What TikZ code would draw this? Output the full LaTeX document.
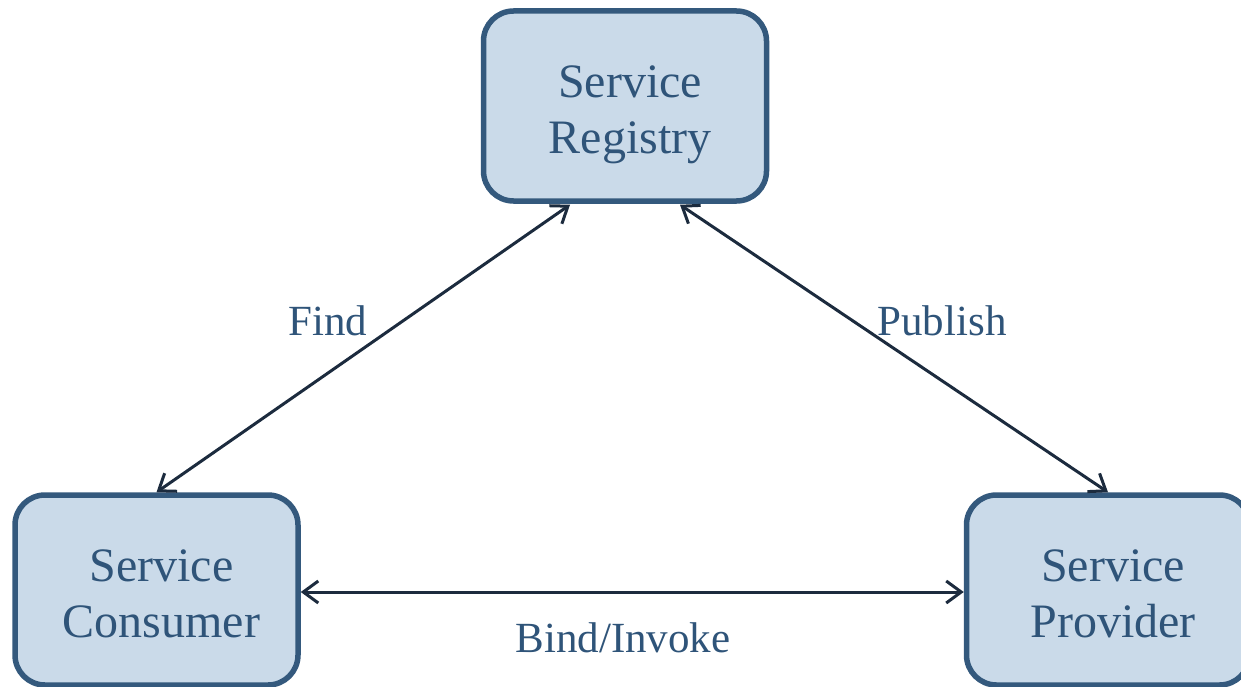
\documentclass[tikz,border=0pt]{standalone}
\usepackage{fontspec}
\setmainfont{Liberation Serif}
\usetikzlibrary{arrows.meta}
\definecolor{boxfill}{HTML}{CADAE9}
\definecolor{boxline}{HTML}{34597D}
\definecolor{txt}{HTML}{2F5479}
\definecolor{arr}{HTML}{1C2B3E}
\newcommand{\boxtext}[2]{\raisebox{-8pt}[\height][\depth]{\begin{tabular}{@{}c@{}}\hspace*{10pt}#1\\\hspace*{10pt}#2\end{tabular}}}
\begin{document}
\begin{tikzpicture}[x=1pt,y=-1pt,
  box/.style={draw=boxline, fill=boxfill, line width=5.5pt, rounded corners=30pt,
    minimum width=283pt, minimum height=190pt, inner sep=0pt, align=center,
    text=txt, font=\fontsize{48}{56}\selectfont},
  lbl/.style={text=txt, font=\fontsize{43}{48}\selectfont, inner sep=0pt},
  conn/.style={draw=arr, line width=3pt,
    {Straight Barb[length=15pt,width=22pt]}-{Straight Barb[length=15pt,width=22pt]}}]
\useasboundingbox (0,0) rectangle (1241,687);
\node[box] (reg) at (625,106) {\boxtext{Service}{Registry}};
\node[box] (cons) at (156.5,590) {\boxtext{Service}{Consumer}};
\node[box] (prov) at (1108,590) {\boxtext{Service}{Provider}};
\coordinate (regL) at ([xshift=-55pt,yshift=-1pt]reg.south);
\coordinate (regR) at ([xshift=55pt,yshift=-1pt]reg.south);
\draw[conn] (cons.north) -- (regL);
\draw[conn] (regR) -- (prov.north);
\draw[conn] ([yshift=-2pt]cons.east) -- ([yshift=-2pt]prov.west);
\node[lbl] (find) at (328,321) {Find};
\node[lbl] (pub) at (942,321) {Publish};
\node[lbl] (bind) at (623,638) {Bind/Invoke};
\end{tikzpicture}
\end{document}
